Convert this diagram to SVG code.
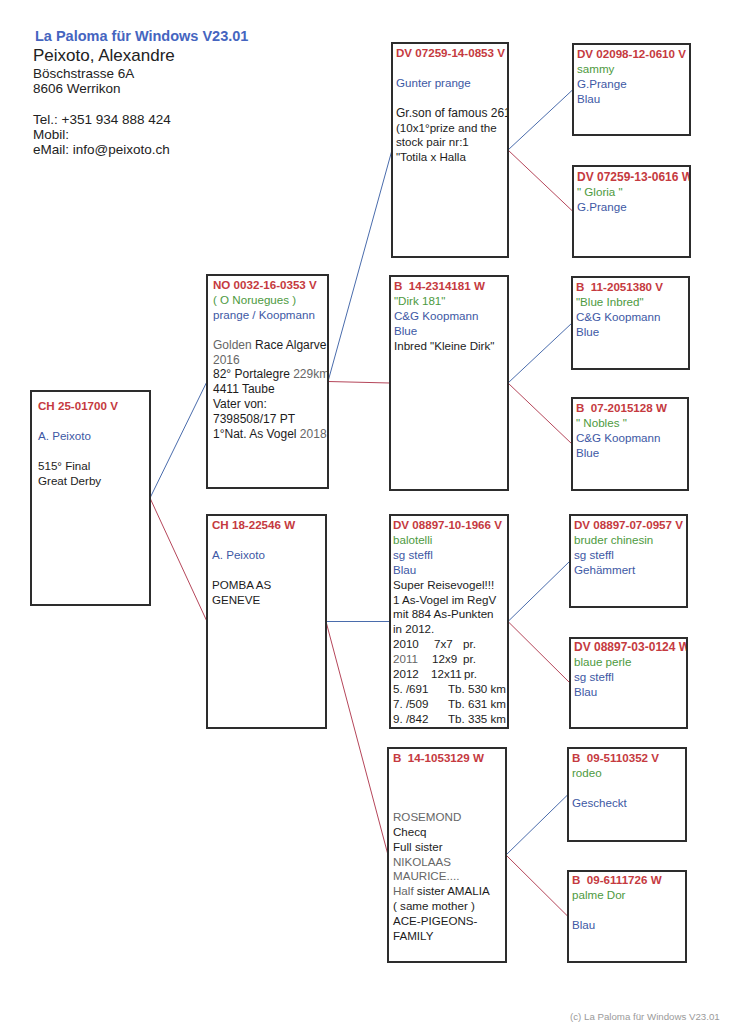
<svg xmlns="http://www.w3.org/2000/svg" width="750" height="1032" viewBox="0 0 750 1032">
<style>
.box{fill:#fff;stroke:#2d2d2d;stroke-width:2}
text{font-family:"Liberation Sans",Arial,sans-serif;font-size:11.6px;fill:#1c1c1c;white-space:pre}
.id{font-weight:bold;fill:#c53a40}
.g{fill:#4d9a3e}
.b{fill:#3d58a4}
.gr{fill:#666}
.w{font-size:12px}
.lb{stroke:#4a6cac;stroke-width:1;fill:none}
.lr{stroke:#b5465a;stroke-width:1;fill:none}
.h{font-size:13.5px;fill:#222}
</style>
<defs>
<clipPath id="c2a"><rect x="208" y="276" width="119" height="211"/></clipPath>
<clipPath id="c3a"><rect x="393" y="44" width="114" height="212"/></clipPath>
<clipPath id="c4b"><rect x="574" y="167" width="115" height="89"/></clipPath>
<clipPath id="c4f"><rect x="571" y="639" width="115" height="88"/></clipPath>
</defs>
<rect width="750" height="1032" fill="#fff"/>
<g id="header">
<text x="35" y="41" style="font-size:14.5px;font-weight:bold;fill:#4565c0">La Paloma für Windows V23.01</text>
<text x="33" y="61" style="font-size:17px;fill:#222">Peixoto, Alexandre</text>
<text class="h" x="33" y="78">Böschstrasse 6A</text>
<text class="h" x="33" y="93">8606 Werrikon</text>
<text class="h" x="33" y="124">Tel.: +351 934 888 424</text>
<text class="h" x="33" y="139">Mobil:</text>
<text class="h" x="33" y="154">eMail: info@peixoto.ch</text>
</g>
<g id="connectors">
<line class="lb" x1="150" y1="498" x2="207" y2="381.5"/>
<line class="lr" x1="150" y1="498" x2="207" y2="621.5"/>
<line class="lb" x1="328" y1="381.5" x2="392" y2="150"/>
<line class="lr" x1="328" y1="381.5" x2="390" y2="383"/>
<line class="lb" x1="326" y1="621.5" x2="390" y2="621.5"/>
<line class="lr" x1="326" y1="621.5" x2="388" y2="855"/>
<line class="lb" x1="508" y1="150" x2="573" y2="89.5"/>
<line class="lr" x1="508" y1="150" x2="573" y2="211.5"/>
<line class="lb" x1="508" y1="383" x2="572" y2="323"/>
<line class="lr" x1="508" y1="383" x2="572" y2="444"/>
<line class="lb" x1="508" y1="621.5" x2="570" y2="561"/>
<line class="lr" x1="508" y1="621.5" x2="570" y2="683"/>
<line class="lb" x1="506" y1="855" x2="568" y2="794.5"/>
<line class="lr" x1="506" y1="855" x2="568" y2="916.5"/>
</g>
<g id="n1">
<rect class="box" x="31" y="391" width="119" height="214"/>
<text class="id" x="38" y="410">CH 25-01700 V</text>
<text class="b" x="38" y="439.8">A. Peixoto</text>
<text x="38" y="469.6">515° Final</text>
<text x="38" y="484.5">Great Derby</text>
</g>
<g id="n2a">
<rect class="box" x="207" y="275" width="121" height="213"/>
<g clip-path="url(#c2a)">
<text class="id" x="213" y="289">NO 0032-16-0353 V</text>
<text class="g" x="213" y="303.9">( O Noruegues )</text>
<text class="b" x="213" y="318.8">prange / Koopmann</text>
<text class="w" x="213" y="348.6"><tspan class="gr">Golden</tspan> Race Algarve</text>
<text class="gr w" x="213" y="363.5">2016</text>
<text class="w" x="213" y="378.4">82° Portalegre <tspan class="gr">229km</tspan></text>
<text class="w" x="213" y="393.3">4411 Taube</text>
<text class="w" x="213" y="408.2">Vater von:</text>
<text class="w" x="213" y="423.1">7398508/17 PT</text>
<text class="w" x="213" y="438">1°Nat. As Vogel <tspan class="gr">2018</tspan></text>
</g>
</g>
<g id="n2b">
<rect class="box" x="207" y="515" width="119" height="213"/>
<text class="id" x="212" y="529">CH 18-22546 W</text>
<text class="b" x="212" y="558.8">A. Peixoto</text>
<text x="212" y="588.6">POMBA AS</text>
<text x="212" y="603.5">GENEVE</text>
</g>
<g id="n3a">
<rect class="box" x="392" y="43" width="116" height="214"/>
<g clip-path="url(#c3a)">
<text class="id" x="396" y="57">DV 07259-14-0853 V</text>
<text class="b" x="396" y="86.8">Gunter prange</text>
<text class="w" x="396" y="116.6">Gr.son of famous 261</text>
<text x="396" y="131.5">(10x1°prize and the</text>
<text x="396" y="146.4">stock pair nr:1</text>
<text x="396" y="161.3">"Totila x Halla</text>
</g>
</g>
<g id="n3b">
<rect class="box" x="390" y="276" width="118" height="214"/>
<text class="id" x="394" y="290">B  14-2314181 W</text>
<text class="g" x="394" y="304.9">"Dirk 181"</text>
<text class="b" x="394" y="319.8">C&amp;G Koopmann</text>
<text class="b" x="394" y="334.7">Blue</text>
<text x="394" y="349.6">Inbred "Kleine Dirk"</text>
</g>
<g id="n3c">
<rect class="box" x="390" y="515" width="118" height="213"/>
<text class="id" x="393" y="529">DV 08897-10-1966 V</text>
<text class="g" x="393" y="543.9">balotelli</text>
<text class="b" x="393" y="558.8">sg steffl</text>
<text class="b" x="393" y="573.7">Blau</text>
<text x="393" y="588.6">Super Reisevogel!!!</text>
<text x="393" y="603.5">1 As-Vogel im RegV</text>
<text x="393" y="618.4">mit 884 As-Punkten</text>
<text x="393" y="633.3">in 2012.</text>
<text x="393" y="648.2">2010<tspan x="434">7x7</tspan><tspan x="463">pr.</tspan></text>
<text x="393" y="663.1"><tspan class="gr">2011</tspan><tspan x="432">12x9</tspan><tspan x="463">pr.</tspan></text>
<text x="393" y="678">2012<tspan x="431">12x11</tspan><tspan x="464">pr.</tspan></text>
<text x="393" y="692.9">5. /691<tspan x="448">Tb. 530 km</tspan></text>
<text x="393" y="707.8">7. /509<tspan x="448">Tb. 631 km</tspan></text>
<text x="393" y="722.7">9. /842<tspan x="448">Tb. 335 km</tspan></text>
</g>
<g id="n3d">
<rect class="box" x="388" y="748" width="118" height="214"/>
<text class="id" x="393" y="762">B  14-1053129 W</text>
<text class="gr" x="393" y="821.2">ROSEMOND</text>
<text x="393" y="836">Checq</text>
<text x="393" y="850.8">Full sister</text>
<text class="gr" x="393" y="865.6">NIKOLAAS</text>
<text class="gr" x="393" y="880.4">MAURICE....</text>
<text x="393" y="895.2"><tspan class="gr">Half</tspan> sister AMALIA</text>
<text x="393" y="910">( same mother )</text>
<text x="393" y="924.8">ACE-PIGEONS-</text>
<text x="393" y="939.6">FAMILY</text>
</g>
<g id="n4a">
<rect class="box" x="573" y="44" width="117" height="91"/>
<text class="id" x="577" y="58">DV 02098-12-0610 V</text>
<text class="g" x="577" y="72.9">sammy</text>
<text class="b" x="577" y="87.8">G.Prange</text>
<text class="b" x="577" y="102.7">Blau</text>
</g>
<g id="n4b">
<rect class="box" x="573" y="166" width="117" height="91"/>
<g clip-path="url(#c4b)">
<text class="id w" x="577" y="181">DV 07259-13-0616 W</text>
<text class="g" x="577" y="195.9">" Gloria "</text>
<text class="b" x="577" y="210.8">G.Prange</text>
</g>
</g>
<g id="n4c">
<rect class="box" x="572" y="277" width="117" height="92"/>
<text class="id" x="576" y="291">B  11-2051380 V</text>
<text class="g" x="576" y="305.9">"Blue Inbred"</text>
<text class="b" x="576" y="320.8">C&amp;G Koopmann</text>
<text class="b" x="576" y="335.7">Blue</text>
</g>
<g id="n4d">
<rect class="box" x="572" y="398" width="116" height="92"/>
<text class="id" x="576" y="412">B  07-2015128 W</text>
<text class="g" x="576" y="426.9">" Nobles "</text>
<text class="b" x="576" y="441.8">C&amp;G Koopmann</text>
<text class="b" x="576" y="456.7">Blue</text>
</g>
<g id="n4e">
<rect class="box" x="570" y="515" width="117" height="92"/>
<text class="id" x="574" y="529">DV 08897-07-0957 V</text>
<text class="g" x="574" y="543.9">bruder chinesin</text>
<text class="b" x="574" y="558.8">sg steffl</text>
<text class="b" x="574" y="573.7">Gehämmert</text>
</g>
<g id="n4f">
<rect class="box" x="570" y="638" width="117" height="90"/>
<g clip-path="url(#c4f)">
<text class="id w" x="574" y="651">DV 08897-03-0124 W</text>
<text class="g" x="574" y="665.9">blaue perle</text>
<text class="b" x="574" y="680.8">sg steffl</text>
<text class="b" x="574" y="695.7">Blau</text>
</g>
</g>
<g id="n4g">
<rect class="box" x="568" y="748" width="118" height="93"/>
<text class="id" x="572" y="762">B  09-5110352 V</text>
<text class="g" x="572" y="776.9">rodeo</text>
<text class="b" x="572" y="806.7">Gescheckt</text>
</g>
<g id="n4h">
<rect class="box" x="568" y="871" width="118" height="91"/>
<text class="id" x="572" y="884">B  09-6111726 W</text>
<text class="g" x="572" y="898.9">palme Dor</text>
<text class="b" x="572" y="928.7">Blau</text>
</g>
<text x="570" y="1020" style="font-size:9.7px;fill:#9a9a9a">(c) La Paloma für Windows V23.01</text>
</svg>
